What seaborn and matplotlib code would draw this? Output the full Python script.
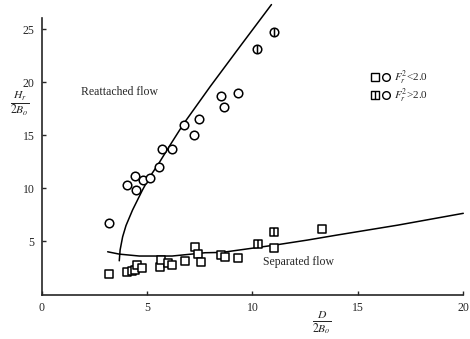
import matplotlib
matplotlib.use("Agg")
import matplotlib.pyplot as plt
import seaborn as sns
from matplotlib.lines import Line2D
from matplotlib.path import Path
from matplotlib.legend_handler import HandlerTuple

# open circles (reattached flow, Fr^2 < 2.0)
circ_x = [3.21, 4.06, 4.44, 4.49, 4.81, 5.14, 5.57, 5.71, 6.18, 6.74, 7.21, 7.45, 8.49, 8.63, 9.29]
circ_y = [6.73, 10.3, 11.2, 9.84, 10.8, 10.97, 12.0, 13.7, 13.7, 15.95, 15.0, 16.5, 18.7, 17.7, 19.0]
# circles with bar (Fr^2 > 2.0)
circ2_x = [10.23, 11.03]
circ2_y = [23.1, 24.7]

# open squares (separated flow, Fr^2 < 2.0)
sq_x = [3.17, 4.03, 4.27, 4.45, 4.52, 4.78, 5.62, 5.65, 6.0, 6.16, 6.79, 7.25, 7.4, 7.58,
        8.49, 8.7, 9.29, 11.0, 13.28]
sq_y = [1.93, 2.12, 2.18, 2.31, 2.78, 2.52, 2.56, 3.25, 2.94, 2.75, 3.18, 4.44, 3.78, 3.09,
        3.7, 3.5, 3.4, 4.35, 6.17]
# squares with bar (Fr^2 > 2.0)
sq2_x = [10.24, 11.03]
sq2_y = [4.78, 5.91]

# boundary curves
reatt_x = [3.68, 3.72, 3.84, 4.0, 4.31, 4.78, 5.1, 5.57, 6.1, 6.74, 8.0, 9.5, 10.9]
reatt_y = [3.18, 4.2, 5.44, 6.5, 7.96, 9.84, 11.0, 12.4, 14.1, 16.1, 19.6, 23.6, 27.3]
sep_x = [3.13, 3.68, 4.63, 6.19, 7.76, 8.55, 11.06, 12.6, 14.0, 16.9, 20.0]
sep_y = [4.03, 3.81, 3.63, 3.63, 3.94, 3.97, 4.66, 5.13, 5.6, 6.54, 7.65]

xticks = [0, 5, 10, 15, 20]
yticks = [5, 10, 15, 20, 25]

# markers with a vertical bar through them
bar = Path([(0, -1), (0, 1)], [Path.MOVETO, Path.LINETO])
sq_path = Path([(-1, -1), (1, -1), (1, 1), (-1, 1), (-1, -1)],
               [Path.MOVETO, Path.LINETO, Path.LINETO, Path.LINETO, Path.CLOSEPOLY])
sq_bar = Path.make_compound_path(sq_path, bar)
ci_bar = Path.make_compound_path(Path.unit_circle(), bar)

sns.set_style("ticks")
plt.rcParams['font.family'] = ['Liberation Serif', 'DejaVu Serif']
plt.rcParams['mathtext.fontset'] = 'stix'

fig = plt.figure(figsize=(4.7, 3.39), dpi=100)
ax = fig.add_axes([0.0887, 0.131, 0.897, 0.869])

sns.lineplot(x=reatt_x, y=reatt_y, sort=False, color='black', lw=1.1, ax=ax, clip_on=False)
sns.lineplot(x=sep_x, y=sep_y, sort=False, color='black', lw=1.1, ax=ax, clip_on=False)

ms = 38
for xs, ys, mk in [(circ_x, circ_y, 'o'), (circ2_x, circ2_y, ci_bar),
                   (sq_x, sq_y, 's'), (sq2_x, sq2_y, sq_bar)]:
    sns.scatterplot(x=xs, y=ys, marker=mk, s=ms, facecolor='white',
                    edgecolor='black', linewidth=1.1, ax=ax, zorder=3)

ax.set_xlim(0, 20)
ax.set_ylim(0, 27.73)
ax.spines['left'].set_bounds(0, 26)
ax.spines['right'].set_visible(False)
ax.spines['top'].set_visible(False)
for s in ['left', 'bottom']:
    ax.spines[s].set_linewidth(1.2)
ax.set_xticks(xticks)
ax.set_yticks(yticks)
ax.tick_params(direction='in', length=3, width=1, labelsize=8.5, pad=5)

fig.text(322 / 470, 1 - 322 / 339, r'$\frac{D}{2B_o}$', fontsize=12, ha='center', va='center')
fig.text(20 / 470, 1 - 103 / 339, r'$\frac{H_r}{2B_o}$', fontsize=12, ha='center', va='center')

ax.text(1.85, 19.07, 'Reattached flow', fontsize=8.5, va='center', ha='left')
ax.text(10.5, 3.06, 'Separated flow', fontsize=8.5, va='center', ha='left')

h_sq = Line2D([], [], marker='s', ls='', mfc='white', mec='black', ms=5.5, mew=1)
h_ci = Line2D([], [], marker='o', ls='', mfc='white', mec='black', ms=5.5, mew=1)
h_sq2 = Line2D([], [], marker=sq_bar, ls='', mfc='white', mec='black', ms=5.5, mew=1)
ax.legend([(h_sq, h_ci), (h_sq2, h_ci)],
          [r'$F_r^2$<2.0', r'$F_r^2$>2.0'],
          handler_map={tuple: HandlerTuple(ndivide=None, pad=0.3)},
          loc='center left', bbox_to_anchor=(0.78, 0.705), frameon=False,
          borderpad=0, borderaxespad=0,
          fontsize=8, handlelength=1.8, handletextpad=0.3, labelspacing=0.05)

plt.savefig('out.png', dpi=100)
